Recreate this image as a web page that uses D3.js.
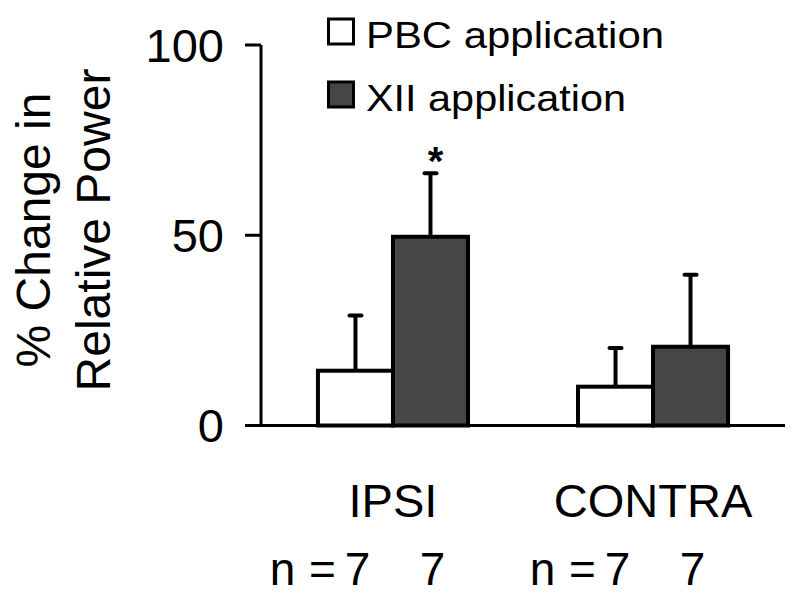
<!DOCTYPE html>
<html>
<head>
<meta charset="utf-8">
<script src="https://cdn.jsdelivr.net/npm/d3@7"></script>
<style>
  body { margin: 0; background: white; }
  svg { font-family: "Liberation Sans", Arial, sans-serif; }
</style>
</head>
<body>
<div id="chart"></div>
<script>
// chart data
const groups = ["IPSI", "CONTRA"];
const series = ["PBC application", "XII application"];
const seriesColors = ["white", "#464646"];
const pbcValues = [14.4, 10.2];
const pbcErrors = [14.5, 10.2];
const xiiValues = [49.6, 20.7];
const xiiErrors = [16.7, 18.9];
const nCounts = [[7, 7], [7, 7]];
const significant = [[false, true], [false, false]];
const yTicks = [0, 50, 100];

const width = 800;
const height = 601;
const margin = { top: 45, left: 261, bottom: 175.5, right: 15 };

var svg = d3.select("#chart")
  .append("svg")
  .attr("width", width)
  .attr("height", height);

var y = d3.scaleLinear()
  .domain([0, 100])
  .range([height - margin.bottom, margin.top]);

var x = d3.scaleBand()
  .domain(groups)
  .range([margin.left, width - margin.right])
  .paddingInner(0.423)
  .paddingOuter(0.219);

var xInner = d3.scaleBand()
  .domain(series)
  .range([0, x.bandwidth()]);

// build rows for the bars
var rows = [];
groups.forEach(function(g, gi) {
  rows.push({ group: g, gi: gi, si: 0, s: series[0], value: pbcValues[gi], err: pbcErrors[gi] });
  rows.push({ group: g, gi: gi, si: 1, s: series[1], value: xiiValues[gi], err: xiiErrors[gi] });
});

function barCenter(d) {
  return x(d.group) + xInner(d.s) + xInner.bandwidth() / 2;
}

// error bars (only upward)
var err = svg.append("g").attr("id", "errors");
err.selectAll("line.stem")
  .data(rows)
  .enter()
  .append("line")
  .attr("class", "stem")
  .attr("x1", barCenter)
  .attr("x2", barCenter)
  .attr("y1", function(d) { return y(d.value); })
  .attr("y2", function(d) { return y(d.value + d.err); })
  .attr("stroke", "black")
  .attr("stroke-width", 4);

err.selectAll("line.cap")
  .data(rows)
  .enter()
  .append("line")
  .attr("class", "cap")
  .attr("x1", function(d) { return barCenter(d) - 6; })
  .attr("x2", function(d) { return barCenter(d) + 6; })
  .attr("y1", function(d) { return y(d.value + d.err); })
  .attr("y2", function(d) { return y(d.value + d.err); })
  .attr("stroke", "black")
  .attr("stroke-width", 4)
  .attr("stroke-linecap", "round");

// bars
svg.append("g")
  .attr("id", "bars")
  .selectAll("rect")
  .data(rows)
  .enter()
  .append("rect")
  .attr("x", function(d) { return x(d.group) + xInner(d.s); })
  .attr("y", function(d) { return y(d.value); })
  .attr("width", xInner.bandwidth())
  .attr("height", function(d) { return y(0) - y(d.value); })
  .attr("fill", function(d) { return seriesColors[d.si]; })
  .attr("stroke", "black")
  .attr("stroke-width", 4);

// significance star
svg.selectAll("text.star")
  .data(rows.filter(function(d) { return significant[d.gi][d.si]; }))
  .enter()
  .append("text")
  .attr("class", "star")
  .attr("x", function(d) { return barCenter(d) + 5; })
  .attr("y", function(d) { return y(d.value + d.err) + 2; })
  .attr("text-anchor", "middle")
  .attr("font-size", 40)
  .attr("font-weight", "bold")
  .text("*");

// y axis
var yAxis = svg.append("g").attr("id", "y-axis");
yAxis.append("line")
  .attr("x1", margin.left)
  .attr("x2", margin.left)
  .attr("y1", y(100))
  .attr("y2", y(0))
  .attr("stroke", "black")
  .attr("stroke-width", 3);

yAxis.selectAll("line.tick")
  .data(yTicks)
  .enter()
  .append("line")
  .attr("class", "tick")
  .attr("x1", margin.left - 16)
  .attr("x2", margin.left)
  .attr("y1", function(d) { return y(d); })
  .attr("y2", function(d) { return y(d); })
  .attr("stroke", "black")
  .attr("stroke-width", 3);

yAxis.selectAll("text")
  .data(yTicks)
  .enter()
  .append("text")
  .attr("x", margin.left - 37)
  .attr("y", function(d) { return y(d); })
  .attr("dy", "0.36em")
  .attr("text-anchor", "end")
  .attr("font-size", 47)
  .text(function(d) { return d; });

// baseline
svg.append("line")
  .attr("x1", margin.left - 16)
  .attr("x2", width - margin.right)
  .attr("y1", y(0))
  .attr("y2", y(0))
  .attr("stroke", "black")
  .attr("stroke-width", 3);

// y label
var yLabel = svg.append("text")
  .attr("transform", "translate(0,230) rotate(-90)")
  .attr("text-anchor", "middle")
  .attr("font-size", 48);
yLabel.append("tspan").attr("x", 0).attr("y", 50).text("% Change in");
yLabel.append("tspan").attr("x", 0).attr("y", 110).text("Relative Power");

// group labels
svg.selectAll("text.group")
  .data(groups)
  .enter()
  .append("text")
  .attr("class", "group")
  .attr("x", function(d) { return x(d) + x.bandwidth() / 2; })
  .attr("y", 517)
  .attr("text-anchor", "middle")
  .attr("font-size", 47)
  .text(function(d) { return d; });

// n counts
rows.forEach(function(d) {
  var cx = barCenter(d) + 2;
  svg.append("text")
    .attr("x", cx)
    .attr("y", 585)
    .attr("text-anchor", "middle")
    .attr("font-size", 46)
    .text(nCounts[d.gi][d.si]);
  if (d.si == 0) {
    svg.append("text")
      .attr("x", cx - 35)
      .attr("y", 585)
      .attr("text-anchor", "middle")
      .attr("font-size", 46)
      .text("=");
    svg.append("text")
      .attr("x", cx - 75)
      .attr("y", 585)
      .attr("text-anchor", "middle")
      .attr("font-size", 46)
      .text("n");
  }
});

// legend
var legend = svg.append("g").attr("id", "legend");
legend.selectAll("rect")
  .data(series)
  .enter()
  .append("rect")
  .attr("x", 328.5)
  .attr("y", function(d, i) { return 19 + i * 63; })
  .attr("width", 25)
  .attr("height", 25)
  .attr("fill", function(d, i) { return seriesColors[i]; })
  .attr("stroke", "black")
  .attr("stroke-width", 3);

var legendLengths = [298, 260];
legend.selectAll("text")
  .data(series)
  .enter()
  .append("text")
  .attr("x", 366)
  .attr("y", function(d, i) { return 48 + i * 63; })
  .attr("font-size", 37)
  .attr("textLength", function(d, i) { return legendLengths[i]; })
  .attr("lengthAdjust", "spacingAndGlyphs")
  .text(function(d) { return d; });
</script>
</body>
</html>
